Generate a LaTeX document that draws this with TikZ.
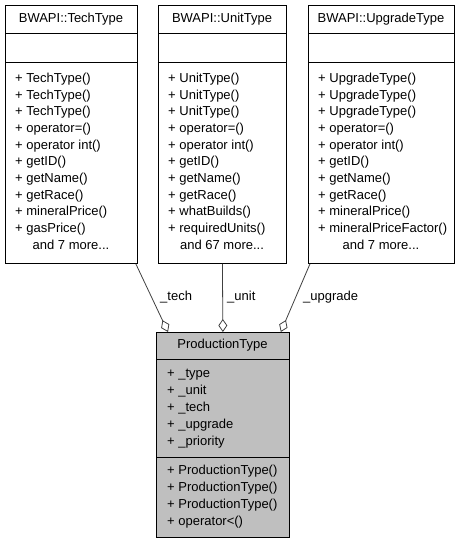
\documentclass[tikz,border=0pt]{standalone}
\usepackage{fontspec}
\setmainfont{Liberation Sans}
\usetikzlibrary{arrows.meta,calc}

\definecolor{edgegray}{HTML}{404040}
\definecolor{classgray}{HTML}{BFBFBF}

\tikzset{
  classbox/.style={draw=black, line width=0.8bp, inner sep=0pt, anchor=north west},
  member/.style={anchor=west, inner sep=0pt, text height=9.4bp, text depth=2.6bp,
    font=\fontsize{13bp}{15bp}\selectfont},
  centred/.style={member, anchor=center},
  sepline/.style={draw=black, line width=0.8bp},
  aggr/.style={draw=edgegray, line width=0.8bp,
    -{Diamond[open, length=13bp, width=9bp, line width=0.8bp]}},
}

\begin{document}
\begin{tikzpicture}[x=1bp, y=-1bp]
    \useasboundingbox (0,0) rectangle (467,544);

    % class boxes
    \node[classbox, minimum width=132bp, minimum height=258bp] (tech) at (5,5) {};
    \node[classbox, minimum width=128bp, minimum height=258bp] (unit) at (158,5) {};
    \node[classbox, minimum width=146bp, minimum height=258bp] (upgrade) at (308,5) {};
    \node[classbox, fill=classgray, minimum width=133bp, minimum height=205bp] (prod) at (156,332) {};

    \draw[sepline] ([yshift=-28bp]tech.north west) -- ([yshift=-28bp]tech.north east);
    \draw[sepline] ([yshift=-57bp]tech.north west) -- ([yshift=-57bp]tech.north east);
    \draw[sepline] ([yshift=-28bp]unit.north west) -- ([yshift=-28bp]unit.north east);
    \draw[sepline] ([yshift=-57bp]unit.north west) -- ([yshift=-57bp]unit.north east);
    \draw[sepline] ([yshift=-28bp]upgrade.north west) -- ([yshift=-28bp]upgrade.north east);
    \draw[sepline] ([yshift=-57bp]upgrade.north west) -- ([yshift=-57bp]upgrade.north east);
    \draw[sepline] ([yshift=-27bp]prod.north west) -- ([yshift=-27bp]prod.north east);
    \draw[sepline] ([yshift=-125bp]prod.north west) -- ([yshift=-125bp]prod.north east);

    % BWAPI::TechType
    \node[centred] (techname) at (71,19) {BWAPI::TechType};
    \node[member] (tech1) at (15,79) {+ TechType()};
    \node[member] (tech2) at (15,95.7) {+ TechType()};
    \node[member] (tech3) at (15,112.4) {+ TechType()};
    \node[member] (tech4) at (15,129.1) {+ operator=()};
    \node[member] (tech5) at (15,145.8) {+ operator int()};
    \node[member] (tech6) at (15,162.5) {+ getID()};
    \node[member] (tech7) at (15,179.2) {+ getName()};
    \node[member] (tech8) at (15,195.9) {+ getRace()};
    \node[member] (tech9) at (15,212.6) {+ mineralPrice()};
    \node[member] (tech10) at (15,229.3) {+ gasPrice()};
    \node[centred] (techmore) at (71,246) {and 7 more...};

    % BWAPI::UnitType
    \node[centred] (unitname) at (222,19) {BWAPI::UnitType};
    \node[member] (unit1) at (168,79) {+ UnitType()};
    \node[member] (unit2) at (168,95.7) {+ UnitType()};
    \node[member] (unit3) at (168,112.4) {+ UnitType()};
    \node[member] (unit4) at (168,129.1) {+ operator=()};
    \node[member] (unit5) at (168,145.8) {+ operator int()};
    \node[member] (unit6) at (168,162.5) {+ getID()};
    \node[member] (unit7) at (168,179.2) {+ getName()};
    \node[member] (unit8) at (168,195.9) {+ getRace()};
    \node[member] (unit9) at (168,212.6) {+ whatBuilds()};
    \node[member] (unit10) at (168,229.3) {+ requiredUnits()};
    \node[centred] (unitmore) at (222,246) {and 67 more...};

    % BWAPI::UpgradeType
    \node[centred] (upgradename) at (381,19) {BWAPI::UpgradeType};
    \node[member] (upgrade1) at (318,79) {+ UpgradeType()};
    \node[member] (upgrade2) at (318,95.7) {+ UpgradeType()};
    \node[member] (upgrade3) at (318,112.4) {+ UpgradeType()};
    \node[member] (upgrade4) at (318,129.1) {+ operator=()};
    \node[member] (upgrade5) at (318,145.8) {+ operator int()};
    \node[member] (upgrade6) at (318,162.5) {+ getID()};
    \node[member] (upgrade7) at (318,179.2) {+ getName()};
    \node[member] (upgrade8) at (318,195.9) {+ getRace()};
    \node[member] (upgrade9) at (318,212.6) {+ mineralPrice()};
    \node[member] (upgrade10) at (318,229.3) {+ mineralPriceFactor()};
    \node[centred] (upgrademore) at (381,246) {and 7 more...};

    % ProductionType
    \node[centred] (prodname) at (222.5,345.5) {ProductionType};
    \node[member] (attr1) at (167,374) {+ \_type};
    \node[member] (attr2) at (167,391) {+ \_unit};
    \node[member] (attr3) at (167,408) {+ \_tech};
    \node[member] (attr4) at (167,425) {+ \_upgrade};
    \node[member] (attr5) at (167,442) {+ \_priority};
    \node[member] (op1) at (167,471.5) {+ ProductionType()};
    \node[member] (op2) at (167,488.5) {+ ProductionType()};
    \node[member] (op3) at (167,505.5) {+ ProductionType()};
    \node[member] (op4) at (167,522.5) {+ operator<()};

    % aggregations
    \draw[aggr] ($(tech.south east)+(-2,0)$) -- ($(prod.north west)+(12,0)$);
    \draw[aggr] (unit.south) -- (prod.north);
    \draw[aggr] ($(upgrade.south west)+(2,0)$) -- ($(prod.north east)+(-9,0)$);
    \node[member] (techlabel) at (160,297) {\_tech};
    \node[member] (unitlabel) at (227,297) {\_unit};
    \node[member] (upgradelabel) at (303,297) {\_upgrade};
\end{tikzpicture}
\end{document}
